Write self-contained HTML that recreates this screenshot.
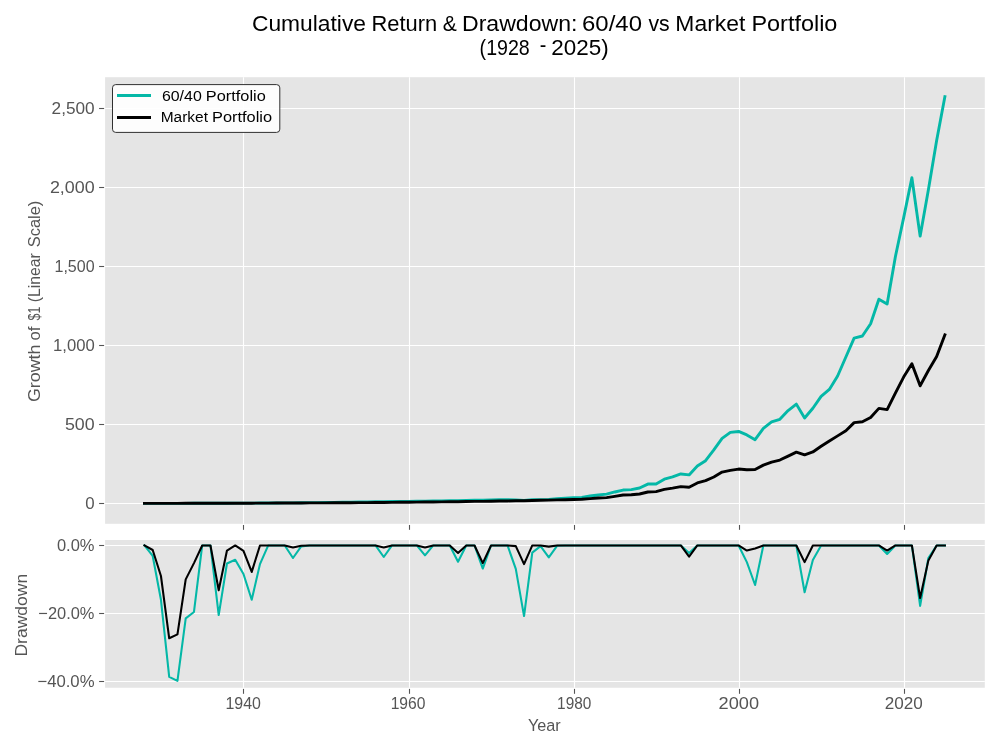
<!DOCTYPE html>
<html lang="en">
<head>
<meta charset="utf-8">
<title>Cumulative Return &amp; Drawdown: 60/40 vs Market Portfolio (1928 - 2025)</title>
<style>
html,body{margin:0;padding:0;background:#ffffff;}
body{width:1000px;height:750px;overflow:hidden;font-family:"Liberation Sans", sans-serif;}
svg text{white-space:pre;}
</style>
</head>
<body>
<svg width="1000" height="750" viewBox="0 0 1000 750" font-family='"Liberation Sans", sans-serif' style="display:block">
<rect width="1000" height="750" fill="#ffffff"/>
<rect x="105.1" y="77.2" width="879.70" height="446.60" fill="#E5E5E5"/>
<rect x="105.1" y="540.0" width="879.70" height="147.75" fill="#E5E5E5"/>
<g stroke="#ffffff" stroke-width="1.1" shape-rendering="auto">
<line x1="243.5" y1="77.2" x2="243.5" y2="523.8"/>
<line x1="243.5" y1="540.0" x2="243.5" y2="687.75"/>
<line x1="409.5" y1="77.2" x2="409.5" y2="523.8"/>
<line x1="409.5" y1="540.0" x2="409.5" y2="687.75"/>
<line x1="574.5" y1="77.2" x2="574.5" y2="523.8"/>
<line x1="574.5" y1="540.0" x2="574.5" y2="687.75"/>
<line x1="739.5" y1="77.2" x2="739.5" y2="523.8"/>
<line x1="739.5" y1="540.0" x2="739.5" y2="687.75"/>
<line x1="904.5" y1="77.2" x2="904.5" y2="523.8"/>
<line x1="904.5" y1="540.0" x2="904.5" y2="687.75"/>
<line x1="105.1" y1="503.5" x2="984.8" y2="503.5"/>
<line x1="105.1" y1="424.5" x2="984.8" y2="424.5"/>
<line x1="105.1" y1="345.5" x2="984.8" y2="345.5"/>
<line x1="105.1" y1="266.5" x2="984.8" y2="266.5"/>
<line x1="105.1" y1="187.5" x2="984.8" y2="187.5"/>
<line x1="105.1" y1="108.5" x2="984.8" y2="108.5"/>
<line x1="105.1" y1="545.5" x2="984.8" y2="545.5"/>
<line x1="105.1" y1="613.5" x2="984.8" y2="613.5"/>
<line x1="105.1" y1="681.5" x2="984.8" y2="681.5"/>
</g>
<g stroke="#555555" stroke-width="1.1">
<line x1="243.5" y1="525.0" x2="243.5" y2="529.8"/>
<line x1="243.5" y1="688.9" x2="243.5" y2="693.8"/>
<line x1="409.5" y1="525.0" x2="409.5" y2="529.8"/>
<line x1="409.5" y1="688.9" x2="409.5" y2="693.8"/>
<line x1="574.5" y1="525.0" x2="574.5" y2="529.8"/>
<line x1="574.5" y1="688.9" x2="574.5" y2="693.8"/>
<line x1="739.5" y1="525.0" x2="739.5" y2="529.8"/>
<line x1="739.5" y1="688.9" x2="739.5" y2="693.8"/>
<line x1="904.5" y1="525.0" x2="904.5" y2="529.8"/>
<line x1="904.5" y1="688.9" x2="904.5" y2="693.8"/>
<line x1="99.1" y1="503.5" x2="104.1" y2="503.5"/>
<line x1="99.1" y1="424.5" x2="104.1" y2="424.5"/>
<line x1="99.1" y1="345.5" x2="104.1" y2="345.5"/>
<line x1="99.1" y1="266.5" x2="104.1" y2="266.5"/>
<line x1="99.1" y1="187.5" x2="104.1" y2="187.5"/>
<line x1="99.1" y1="108.5" x2="104.1" y2="108.5"/>
<line x1="99.1" y1="545.5" x2="104.1" y2="545.5"/>
<line x1="99.1" y1="613.5" x2="104.1" y2="613.5"/>
<line x1="99.1" y1="681.5" x2="104.1" y2="681.5"/>
</g>
<defs>
<clipPath id="ct"><rect x="105.1" y="77.2" width="879.70" height="446.60"/></clipPath>
<clipPath id="cb"><rect x="105.1" y="540.0" width="879.70" height="147.75"/></clipPath>
</defs>
<g fill="none" stroke-linecap="square" stroke-linejoin="round" clip-path="url(#ct)">
<path d="M144.45,503.34 L152.70,503.34 L160.95,503.35 L169.20,503.38 L177.45,503.38 L185.71,503.33 L193.96,503.32 L202.21,503.26 L210.46,503.25 L218.71,503.28 L226.97,503.21 L235.22,503.17 L243.47,503.15 L251.72,503.15 L259.97,503.06 L268.23,502.98 L276.48,502.93 L284.73,502.87 L292.98,502.83 L301.23,502.74 L309.49,502.67 L317.74,502.59 L325.99,502.50 L334.24,502.40 L342.49,502.30 L350.75,502.18 L359.00,502.05 L367.25,501.91 L375.50,501.76 L383.75,501.73 L392.01,501.56 L400.26,501.46 L408.51,501.34 L416.76,501.22 L425.01,501.17 L433.27,500.97 L441.52,500.83 L449.77,500.68 L458.02,500.66 L466.27,500.36 L474.53,500.18 L482.78,500.28 L491.03,499.90 L499.28,499.75 L507.53,499.60 L515.79,499.87 L524.04,500.41 L532.29,499.68 L540.54,499.61 L548.79,499.33 L557.05,498.73 L565.30,498.22 L573.55,497.65 L581.80,497.34 L590.05,496.00 L598.31,494.97 L606.56,494.18 L614.81,491.97 L623.06,490.07 L631.31,489.60 L639.57,488.02 L647.82,484.07 L656.07,484.07 L664.32,479.17 L672.57,476.96 L680.83,473.95 L689.08,474.90 L697.33,466.05 L705.58,460.68 L713.83,449.94 L722.09,438.40 L730.34,432.40 L738.59,431.45 L746.84,434.93 L755.09,439.67 L763.35,428.45 L771.60,421.97 L779.85,419.29 L788.10,410.60 L796.35,404.12 L804.61,418.02 L812.86,408.23 L821.11,396.38 L829.36,389.42 L837.61,375.99 L845.87,357.03 L854.12,338.07 L862.37,336.02 L870.62,323.70 L878.87,299.21 L887.13,304.10 L895.38,256.70 L903.63,217.84 L911.88,177.70 L920.13,236.16 L928.39,189.87 L936.64,140.57 L944.89,96.65" stroke="#04B8A7" stroke-width="2.9"/>
<path d="M144.45,503.34 L152.70,503.34 L160.95,503.34 L169.20,503.37 L177.45,503.36 L185.71,503.32 L193.96,503.31 L202.21,503.29 L210.46,503.28 L218.71,503.29 L226.97,503.24 L235.22,503.21 L243.47,503.19 L251.72,503.19 L259.97,503.13 L268.23,503.10 L276.48,503.06 L284.73,503.03 L292.98,503.00 L301.23,502.96 L309.49,502.92 L317.74,502.88 L325.99,502.84 L334.24,502.80 L342.49,502.75 L350.75,502.70 L359.00,502.65 L367.25,502.59 L375.50,502.53 L383.75,502.47 L392.01,502.39 L400.26,502.32 L408.51,502.24 L416.76,502.15 L425.01,502.07 L433.27,501.97 L441.52,501.87 L449.77,501.76 L458.02,501.69 L466.27,501.53 L474.53,501.40 L482.78,501.41 L491.03,501.18 L499.28,501.07 L507.53,500.94 L515.79,500.82 L524.04,500.81 L532.29,500.48 L540.54,500.30 L548.79,500.13 L557.05,499.91 L565.30,499.70 L573.55,499.47 L581.80,499.31 L590.05,498.60 L598.31,497.97 L606.56,497.65 L614.81,496.39 L623.06,494.97 L631.31,494.81 L639.57,494.02 L647.82,491.97 L656.07,491.65 L664.32,489.44 L672.57,488.17 L680.83,486.59 L689.08,487.23 L697.33,482.96 L705.58,480.59 L713.83,476.96 L722.09,472.06 L730.34,470.40 L738.59,469.06 L746.84,469.69 L755.09,469.45 L763.35,465.11 L771.60,462.10 L779.85,460.05 L788.10,456.10 L796.35,452.15 L804.61,454.84 L812.86,451.99 L821.11,446.30 L829.36,440.93 L837.61,435.88 L845.87,430.82 L854.12,422.60 L862.37,421.81 L870.62,417.55 L878.87,408.38 L887.13,409.65 L895.38,393.06 L903.63,377.10 L911.88,363.67 L920.13,385.79 L928.39,370.46 L936.64,356.56 L944.89,334.91" stroke="#000000" stroke-width="2.9"/>
</g>
<g fill="none" stroke-linecap="square" stroke-linejoin="round" clip-path="url(#cb)">
<path d="M144.45,545.45 L152.70,555.97 L160.95,599.77 L169.20,676.84 L177.45,680.91 L185.71,618.44 L193.96,611.99 L202.21,545.45 L210.46,545.45 L218.71,615.05 L226.97,563.44 L235.22,559.71 L243.47,573.97 L251.72,599.77 L259.97,564.12 L268.23,545.45 L276.48,545.45 L284.73,545.45 L292.98,558.01 L301.23,546.47 L309.49,545.45 L317.74,545.45 L325.99,545.45 L334.24,545.45 L342.49,545.45 L350.75,545.45 L359.00,545.45 L367.25,545.45 L375.50,545.45 L383.75,556.99 L392.01,545.45 L400.26,545.45 L408.51,545.45 L416.76,545.45 L425.01,555.30 L433.27,545.45 L441.52,545.45 L449.77,545.45 L458.02,561.75 L466.27,545.45 L474.53,545.45 L482.78,568.54 L491.03,545.45 L499.28,545.45 L507.53,545.45 L515.79,568.88 L524.04,616.07 L532.29,552.58 L540.54,546.13 L548.79,557.33 L557.05,545.79 L565.30,545.45 L573.55,545.45 L581.80,545.45 L590.05,545.45 L598.31,545.45 L606.56,545.45 L614.81,545.45 L623.06,545.45 L631.31,545.45 L639.57,545.45 L647.82,545.45 L656.07,545.45 L664.32,545.45 L672.57,545.45 L680.83,545.45 L689.08,552.92 L697.33,545.45 L705.58,545.45 L713.83,545.45 L722.09,545.45 L730.34,545.45 L738.59,545.45 L746.84,562.09 L755.09,585.00 L763.35,545.45 L771.60,545.45 L779.85,545.45 L788.10,545.45 L796.35,545.45 L804.61,592.30 L812.86,560.05 L821.11,545.45 L829.36,545.45 L837.61,545.45 L845.87,545.45 L854.12,545.45 L862.37,545.45 L870.62,545.45 L878.87,545.45 L887.13,553.94 L895.38,545.45 L903.63,545.45 L911.88,545.45 L920.13,605.88 L928.39,558.01 L936.64,545.45 L944.89,545.45" stroke="#04B8A7" stroke-width="2.08"/>
<path d="M144.45,545.45 L152.70,550.03 L160.95,576.00 L169.20,638.30 L177.45,634.40 L185.71,579.40 L193.96,563.10 L202.21,545.45 L210.46,545.45 L218.71,590.26 L226.97,550.54 L235.22,545.45 L243.47,550.88 L251.72,571.93 L259.97,545.45 L268.23,545.45 L276.48,545.45 L284.73,545.45 L292.98,547.49 L301.23,545.79 L309.49,545.45 L317.74,545.45 L325.99,545.45 L334.24,545.45 L342.49,545.45 L350.75,545.45 L359.00,545.45 L367.25,545.45 L375.50,545.45 L383.75,547.49 L392.01,545.45 L400.26,545.45 L408.51,545.45 L416.76,545.45 L425.01,547.49 L433.27,545.45 L441.52,545.45 L449.77,545.45 L458.02,552.92 L466.27,545.45 L474.53,545.45 L482.78,563.10 L491.03,545.45 L499.28,545.45 L507.53,545.45 L515.79,546.13 L524.04,564.12 L532.29,545.45 L540.54,545.45 L548.79,546.64 L557.05,545.45 L565.30,545.45 L573.55,545.45 L581.80,545.45 L590.05,545.45 L598.31,545.45 L606.56,545.45 L614.81,545.45 L623.06,545.45 L631.31,545.45 L639.57,545.45 L647.82,545.45 L656.07,545.45 L664.32,545.45 L672.57,545.45 L680.83,545.45 L689.08,556.65 L697.33,545.45 L705.58,545.45 L713.83,545.45 L722.09,545.45 L730.34,545.45 L738.59,545.45 L746.84,550.54 L755.09,548.51 L763.35,545.45 L771.60,545.45 L779.85,545.45 L788.10,545.45 L796.35,545.45 L804.61,562.09 L812.86,545.45 L821.11,545.45 L829.36,545.45 L837.61,545.45 L845.87,545.45 L854.12,545.45 L862.37,545.45 L870.62,545.45 L878.87,545.45 L887.13,550.54 L895.38,545.45 L903.63,545.45 L911.88,545.45 L920.13,598.07 L928.39,560.39 L936.64,545.45 L944.89,545.45" stroke="#000000" stroke-width="2.08"/>
</g>
<rect x="112.5" y="84.6" width="167.30" height="47.80" rx="3.2" ry="3.2" fill="#ffffff" fill-opacity="0.9" stroke="#303030" stroke-width="1.0"/>
<line x1="117" y1="95.5" x2="151" y2="95.5" stroke="#04B8A7" stroke-width="2.78"/>
<line x1="117" y1="117.5" x2="151" y2="117.5" stroke="#000000" stroke-width="2.78"/>
<text y="114.40" font-size="16.67" fill="#555555"><tspan id="yt0" x="51.59" textLength="43.06" lengthAdjust="spacingAndGlyphs">2,500</tspan></text>
<text y="193.40" font-size="16.67" fill="#555555"><tspan id="yt1" x="49.92" textLength="44.82" lengthAdjust="spacingAndGlyphs">2,000</tspan></text>
<text y="272.40" font-size="16.67" fill="#555555"><tspan id="yt2" x="54.48" textLength="40.13" lengthAdjust="spacingAndGlyphs">1,500</tspan></text>
<text y="351.40" font-size="16.67" fill="#555555"><tspan id="yt3" x="53.04" textLength="41.67" lengthAdjust="spacingAndGlyphs">1,000</tspan></text>
<text y="430.40" font-size="16.67" fill="#555555"><tspan id="yt4" x="64.91" textLength="29.72" lengthAdjust="spacingAndGlyphs">500</tspan></text>
<text y="509.40" font-size="16.67" fill="#555555"><tspan id="yt5" x="85.18" textLength="9.37" lengthAdjust="spacingAndGlyphs">0</tspan></text>
<text y="551.40" font-size="16.67" fill="#555555"><tspan id="yb0" x="56.94" textLength="37.58" lengthAdjust="spacingAndGlyphs">0.0%</tspan></text>
<text y="619.40" font-size="16.67" fill="#555555"><tspan id="yb1" x="38.34" textLength="56.16" lengthAdjust="spacingAndGlyphs">−20.0%</tspan></text>
<text y="687.40" font-size="16.67" fill="#555555"><tspan id="yb2" x="37.40" textLength="57.12" lengthAdjust="spacingAndGlyphs">−40.0%</tspan></text>
<text y="708.70" font-size="16.67" fill="#555555"><tspan id="xt0" x="225.48" textLength="35.46" lengthAdjust="spacingAndGlyphs">1940</tspan></text>
<text y="708.70" font-size="16.67" fill="#555555"><tspan id="xt1" x="390.67" textLength="34.80" lengthAdjust="spacingAndGlyphs">1960</tspan></text>
<text y="708.70" font-size="16.67" fill="#555555"><tspan id="xt2" x="557.11" textLength="34.20" lengthAdjust="spacingAndGlyphs">1980</tspan></text>
<text y="708.70" font-size="16.67" fill="#555555"><tspan id="xt3" x="718.64" textLength="40.42" lengthAdjust="spacingAndGlyphs">2000</tspan></text>
<text y="708.70" font-size="16.67" fill="#555555"><tspan id="xt4" x="884.79" textLength="38.03" lengthAdjust="spacingAndGlyphs">2020</tspan></text>
<text y="730.80" font-size="16.67" fill="#555555"><tspan id="xl" x="527.95" textLength="32.80" lengthAdjust="spacingAndGlyphs">Year</tspan></text>
<text transform="translate(40.30,0) rotate(-90)" font-size="16.67" fill="#555555"><tspan id="yl0" x="-402.01" textLength="57.42" lengthAdjust="spacingAndGlyphs">Growth</tspan> <tspan id="yl1" x="-340.48" textLength="14.00" lengthAdjust="spacingAndGlyphs">of</tspan> <tspan id="yl2" x="-320.38" textLength="13.83" lengthAdjust="spacingAndGlyphs">$1</tspan> <tspan id="yl3" x="-302.35" textLength="49.10" lengthAdjust="spacingAndGlyphs">(Linear</tspan> <tspan id="yl4" x="-247.28" textLength="46.54" lengthAdjust="spacingAndGlyphs">Scale)</tspan></text>
<text transform="translate(27.40,0) rotate(-90)" font-size="16.67" fill="#555555"><tspan id="ylb" x="-656.62" textLength="82.79" lengthAdjust="spacingAndGlyphs">Drawdown</tspan></text>
<text y="30.80" font-size="22.2" fill="#000000"><tspan id="t1_0" x="251.96" textLength="114.02" lengthAdjust="spacingAndGlyphs">Cumulative</tspan> <tspan id="t1_1" x="371.51" textLength="65.70" lengthAdjust="spacingAndGlyphs">Return</tspan> <tspan id="t1_2" x="442.80" textLength="14.05" lengthAdjust="spacingAndGlyphs">&amp;</tspan> <tspan id="t1_3" x="461.98" textLength="115.48" lengthAdjust="spacingAndGlyphs">Drawdown:</tspan> <tspan id="t1_4" x="582.05" textLength="59.94" lengthAdjust="spacingAndGlyphs">60/40</tspan> <tspan id="t1_5" x="648.38" textLength="21.23" lengthAdjust="spacingAndGlyphs">vs</tspan> <tspan id="t1_6" x="675.35" textLength="69.96" lengthAdjust="spacingAndGlyphs">Market</tspan> <tspan id="t1_7" x="751.45" textLength="85.98" lengthAdjust="spacingAndGlyphs">Portfolio</tspan></text>
<text y="54.80" font-size="22.2" fill="#000000"><tspan id="t2_0" x="479.61" y="54.80" textLength="50.17" lengthAdjust="spacingAndGlyphs">(1928</tspan> <tspan id="t2_1" x="539.82" y="52.40" textLength="6.57" lengthAdjust="spacingAndGlyphs">-</tspan> <tspan id="t2_2" x="551.18" y="54.80" textLength="57.44" lengthAdjust="spacingAndGlyphs">2025)</tspan></text>
<text y="100.85" font-size="15.28" fill="#000000"><tspan id="l1a" x="161.90" textLength="39.86" lengthAdjust="spacingAndGlyphs">60/40</tspan> <tspan id="l1b" x="205.85" textLength="59.92" lengthAdjust="spacingAndGlyphs">Portfolio</tspan></text>
<text y="121.90" font-size="15.28" fill="#000000"><tspan id="l2a" x="160.69" textLength="47.31" lengthAdjust="spacingAndGlyphs">Market</tspan> <tspan id="l2b" x="212.05" textLength="60.08" lengthAdjust="spacingAndGlyphs">Portfolio</tspan></text>
</svg>
</body>
</html>
